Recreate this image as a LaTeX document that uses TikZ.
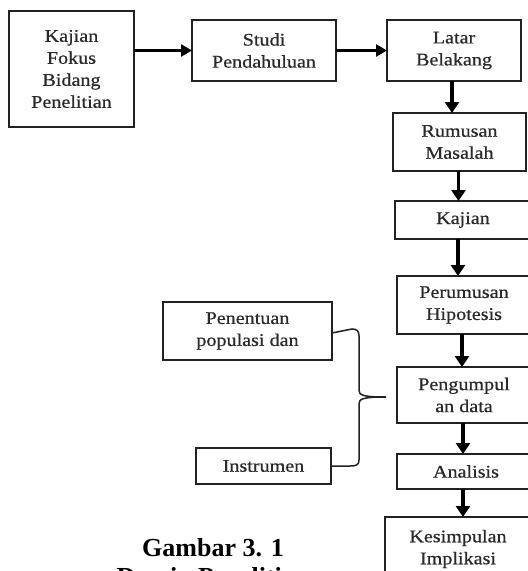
\documentclass[tikz,border=0pt]{standalone}
\usepackage{fontspec}
\usetikzlibrary{arrows.meta}
\newfontfamily\boxfont[FakeStretch=1.13,FakeBold=0.6]{Liberation Serif}
\newfontfamily\capfont{Liberation Serif}
\definecolor{ink}{HTML}{222222}
\definecolor{txt}{HTML}{2a2a2a}
\tikzset{
  box/.style={draw=ink, line width=1.5pt, rectangle, inner sep=0pt, outer sep=0pt,
    align=center, text=txt, font=\boxfont\fontsize{17.8}{22}\selectfont},
  flow/.style={draw=black, line width=3.2pt, -{Triangle[length=11pt,width=14pt]}},
  hflow/.style={draw=black, line width=2.6pt, -{Triangle[length=11pt,width=12pt]}},
  bracel/.style={draw=ink, line width=1.5pt}
}
\begin{document}
\begin{tikzpicture}[x=1pt,y=-1pt]
\clip (0,0) rectangle (528,571);
\fill[white] (0,0) rectangle (528,571);
\node[box, minimum width=125pt, minimum height=116pt] (kf) at (71.5,69) {Kajian\\Fokus\\Bidang\\Penelitian};
\node[box, minimum width=144pt, minimum height=61pt] (studi) at (264,50.5) {Studi\\Pendahuluan};
\node[box, minimum width=134pt, minimum height=61pt] (latar) at (454,50.5) {Latar\\Belakang};
\node[box, minimum width=133pt, minimum height=58pt] (rum) at (459.5,142) {Rumusan\\Masalah};
\node[box, minimum width=136pt, minimum height=38pt] (kaj) at (463,220) {Kajian};
\node[box, minimum width=134pt, minimum height=58pt] (perh) at (464,305) {Perumusan\\Hipotesis};
\node[box, minimum width=134pt, minimum height=56pt] (peng) at (464,395) {Pengumpul\\an data};
\node[box, minimum width=138pt, minimum height=35pt] (anal) at (466,471.5) {Analisis};
\node[box, minimum width=146pt, minimum height=64pt] (kes) at (458,549) {Kesimpulan\\Implikasi};
\node[box, minimum width=169pt, minimum height=58pt] (pen) at (247.5,331) {Penentuan\\populasi dan};
\node[box, minimum width=135pt, minimum height=36pt] (instr) at (263.5,466) {Instrumen};
\node[anchor=north, inner sep=0pt, align=center, font=\capfont\bfseries\fontsize{26}{29}\selectfont] (cap) at (213,538) {Gambar 3. 1\\Desain Penelitian};
% horizontal arrows
\draw[hflow] (kf.east |- studi.west) -- (studi.west);
\draw[hflow] (studi.east) -- (latar.west);
% vertical arrows
\draw[flow] ([xshift=-2pt]latar.south) -- ([xshift=-2pt]latar.south |- rum.north);
\draw[flow] ([xshift=-1pt]rum.south) -- ([xshift=-1pt]rum.south |- kaj.north);
\draw[flow] ([xshift=-5pt]kaj.south) -- ([xshift=-5pt]kaj.south |- perh.north);
\draw[flow] ([xshift=-2pt]perh.south) -- ([xshift=-2pt]perh.south |- peng.north);
\draw[flow] ([xshift=-1pt]peng.south) -- ([xshift=-1pt]peng.south |- anal.north);
\draw[flow] ([xshift=-3pt]anal.south) -- ([xshift=-3pt]anal.south |- kes.north);
% brace
\coordinate (tip) at (386,397);
\draw[bracel] ([yshift=-2pt]pen.east) -- (352,329) .. controls (357,329) and (359,331) .. (359,336)
  -- (359,390) .. controls (359,395) and (362,397) .. (tip);
\draw[bracel] (tip) .. controls (362,397) and (359,399) .. (359,404)
  -- (359,460) .. controls (359,465) and (356,466) .. (350,466) -- (instr.east);
\end{tikzpicture}
\end{document}
